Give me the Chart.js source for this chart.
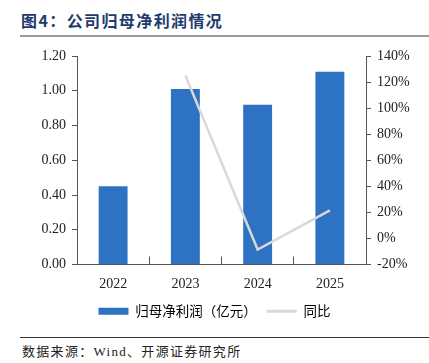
<!DOCTYPE html>
<html>
<head>
<meta charset="utf-8">
<script src="https://cdn.jsdelivr.net/npm/chart.js@4"></script>
<style>
  body { margin: 0; width: 429px; height: 363px; background: #fff; position: relative; overflow: hidden; }
  #title { position: absolute; left: 21px; top: 8px; font: bold 16px "Noto Sans CJK SC", sans-serif; color: #1F3A6E; letter-spacing: 1.4px; }
  #topline { position: absolute; left: 20px; top: 35px; width: 409px; height: 2px; background: #9a9a9a; }
  #botline { position: absolute; left: 20px; top: 337px; width: 409px; height: 1px; background: #333; }
  #source { position: absolute; left: 22px; top: 341px; font: 13px "Liberation Serif", "Noto Sans CJK SC", serif; color: #222; letter-spacing: 1.3px; }
  #wrap { position: absolute; left: 0; top: 0; width: 429px; height: 336px; }
</style>
</head>
<body>
<div id="title">图4：公司归母净利润情况</div>
<div id="topline"></div>
<div id="wrap"><canvas id="c"></canvas></div>
<div id="botline"></div>
<div id="source">数据来源：Wind、开源证券研究所</div>
<script>
// datos del gráfico
const years = ['2022', '2023', '2024', '2025'];
const profit = [0.45, 1.01, 0.92, 1.11];
const yoy = [null, 125, -8.5, 21.5];

const ctx = document.getElementById('c').getContext('2d');
const serif = { family: '"Liberation Serif", "Times New Roman", serif', size: 14 };

new Chart(ctx, {
  type: 'bar',
  data: {
    labels: years,
    datasets: [{
      label: '归母净利润（亿元）',
      data: profit,
      backgroundColor: '#2E72C3',
      borderWidth: 0,
      categoryPercentage: 0.8,
      barPercentage: 0.5,
      yAxisID: 'y',
      order: 2
    }, {
      type: 'line',
      label: '同比',
      data: yoy,
      borderColor: '#D9D9D9',
      backgroundColor: '#D9D9D9',
      borderWidth: 2.5,
      pointRadius: 0,
      tension: 0,
      yAxisID: 'y1',
      order: 1
    }]
  },
  options: {
    responsive: true,
    maintainAspectRatio: false,
    animation: false,
    layout: { padding: { top: 56, left: 0, right: 0, bottom: 8 } },
    plugins: {
      tooltip: { enabled: false },
      legend: {
        position: 'bottom',
        labels: {
          font: { family: '"Noto Sans CJK SC", sans-serif', size: 13.5 },
          color: '#333',
          usePointStyle: true,
          pointStyleWidth: 30,
          boxHeight: 7,
          padding: 10,
          generateLabels: (chart) => chart.data.datasets.map((d, i) => ({
            text: d.label,
            pointStyle: d.type === 'line' ? 'line' : 'rect',
            fillStyle: d.type === 'line' ? '#D9D9D9' : '#2E72C3',
            strokeStyle: d.type === 'line' ? '#D9D9D9' : '#2E72C3',
            lineWidth: d.type === 'line' ? 3 : 0,
            datasetIndex: i
          }))
        }
      }
    },
    scales: {
      x: {
        offset: true,
        border: { color: '#555', width: 1 },
        grid: { display: true, offset: true, drawOnChartArea: false, drawTicks: true, tickLength: -8, color: '#555' },
        ticks: { font: serif, color: '#222', padding: 19 },
        afterFit: (s) => { s.height = 30; }
      },
      y: {
        position: 'left',
        min: 0, max: 1.2,
        border: { color: '#555', width: 1 },
        grid: { drawOnChartArea: false, drawTicks: true, tickLength: 5, color: '#555' },
        ticks: { stepSize: 0.2, font: serif, color: '#222', padding: 6, callback: (v) => v.toFixed(2) },
        afterFit: (s) => { s.width = 77; }
      },
      y1: {
        position: 'right',
        min: -20, max: 140,
        border: { color: '#555', width: 1 },
        grid: { drawOnChartArea: false, drawTicks: true, tickLength: 5, color: '#555' },
        ticks: { stepSize: 20, font: serif, color: '#222', padding: 6, callback: (v) => v + '%' },
        afterFit: (s) => { s.width = 63; }
      }
    }
  }
});
</script>
</body>
</html>
